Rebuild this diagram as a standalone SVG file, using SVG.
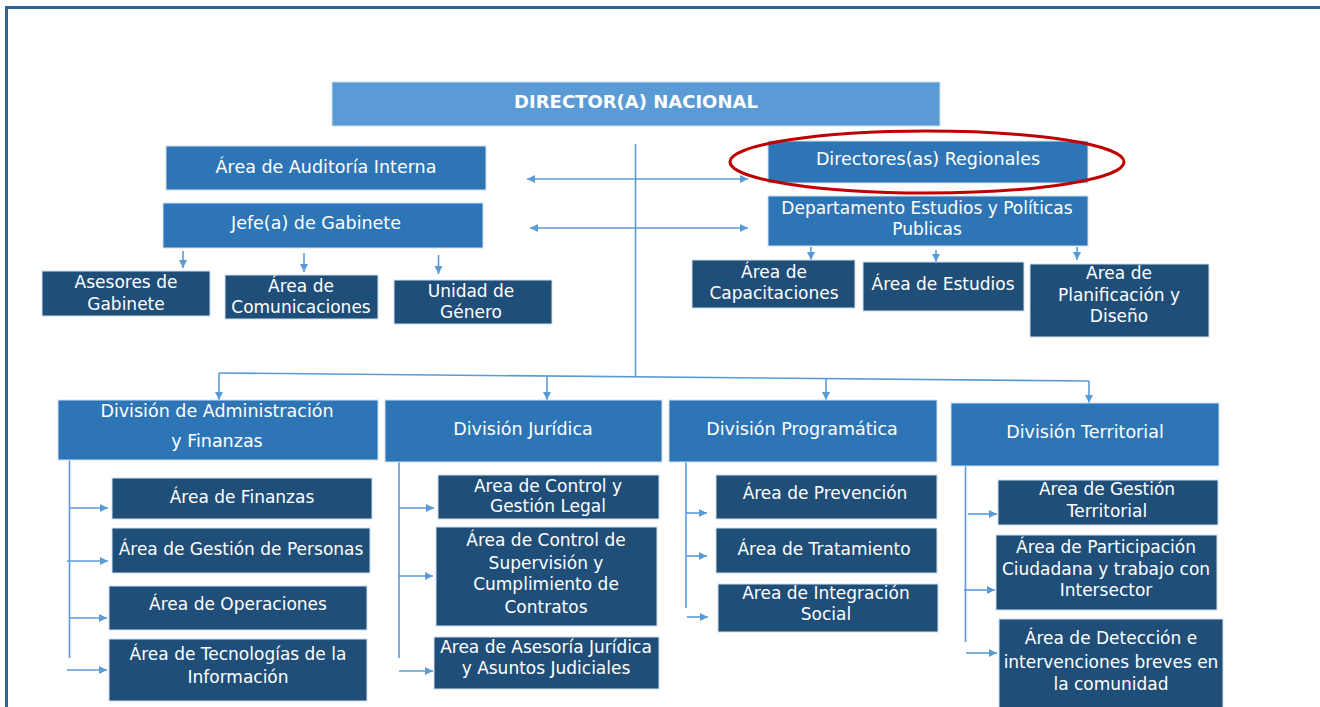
<svg xmlns="http://www.w3.org/2000/svg" width="1320" height="707" viewBox="0 0 1320 707">
<defs>
<marker id="ah" markerUnits="userSpaceOnUse" markerWidth="9" markerHeight="9" refX="8" refY="4.5" orient="auto-start-reverse">
<path d="M0,0.5 L8,4.5 L0,8.5 z" fill="#5b9bd5"/>
</marker>
<style>
.frame{fill:none;stroke:#346296;stroke-width:3}
.b0{fill:#5b9bd5;stroke:#cfe0f1;stroke-width:1}
.b1{fill:#2e75b6;stroke:#cfe0f1;stroke-width:1}
.b2{fill:#1f4e79;stroke:#cfe0f1;stroke-width:1}
text{font-family:"DejaVu Sans","Verdana",sans-serif;fill:#ffffff;text-anchor:middle}
.t0{font-size:18px;font-weight:bold}
.t1{font-size:17.5px}
.t2{font-size:17px}
.c{fill:none;stroke:#5b9bd5;stroke-width:1.6}
.a{fill:none;stroke:#5b9bd5;stroke-width:1.6;marker-end:url(#ah)}
.aa{fill:none;stroke:#5b9bd5;stroke-width:1.6;marker-end:url(#ah);marker-start:url(#ah)}
.ring{fill:none;stroke:#c00000;stroke-width:3}
</style>
</defs>
<rect width="1320" height="707" fill="#ffffff"/>
<path class="frame" d="M6.5,707 L6.5,7.5 L1320,7.5"/>

<g id="connectors">
<path class="c" d="M635.5,144 L635.5,377"/>
<path class="aa" d="M527,179 L748,179"/>
<path class="aa" d="M530,228 L748,228"/>
<path class="a" d="M183,251 L183,268"/>
<path class="a" d="M304,253 L304,272"/>
<path class="a" d="M438.5,255 L438.5,274"/>
<path class="a" d="M811,247 L811,260"/>
<path class="a" d="M936,250 L936,262"/>
<path class="a" d="M1077,247 L1077,260"/>
<path class="c" d="M219,373 L1089,381"/>
<path class="a" d="M219,373 L219,400"/>
<path class="a" d="M547,376 L547,400"/>
<path class="a" d="M826,378.5 L826,400"/>
<path class="a" d="M1089,381 L1089,403"/>
<path class="c" d="M69.5,460 L69.5,658"/>
<path class="a" d="M69.5,508 L108,508"/>
<path class="a" d="M67,561 L108,561"/>
<path class="a" d="M69.5,618 L107,618"/>
<path class="a" d="M67,670 L107,670"/>
<path class="c" d="M399,462 L399,658"/>
<path class="a" d="M399,508 L434,508"/>
<path class="a" d="M398,576 L433,576"/>
<path class="a" d="M399,671 L433,671"/>
<path class="c" d="M686,462 L686,608"/>
<path class="a" d="M686,513 L707,513"/>
<path class="a" d="M686,556 L707,556"/>
<path class="a" d="M687,617 L708,617"/>
<path class="c" d="M965.5,466 L965.5,642"/>
<path class="a" d="M968,514 L997,514"/>
<path class="a" d="M964,590 L995,590"/>
<path class="a" d="M966,653 L997,653"/>
</g>

<g id="director">
<rect class="b0" x="332" y="82" width="608" height="44"/>
<text class="t0" x="636" y="108">DIRECTOR(A) NACIONAL</text>
</g>
<g id="auditoria">
<rect class="b1" x="166" y="146" width="320" height="44"/>
<text class="t1" x="326" y="173">Área de Auditoría Interna</text>
</g>
<g id="jefe-gabinete">
<rect class="b1" x="163" y="203" width="320" height="45"/>
<text class="t1" x="316" y="229">Jefe(a) de Gabinete</text>
</g>
<g id="asesores">
<rect class="b2" x="42" y="271" width="168" height="45"/>
<text class="t2" x="126" y="288">Asesores de</text>
<text class="t2" x="126" y="310">Gabinete</text>
</g>
<g id="comunicaciones">
<rect class="b2" x="225" y="275" width="153" height="44"/>
<text class="t2" x="301" y="292">Área de</text>
<text class="t2" x="301" y="313">Comunicaciones</text>
</g>
<g id="genero">
<rect class="b2" x="394" y="280" width="158" height="44"/>
<text class="t2" x="471" y="297">Unidad de</text>
<text class="t2" x="471" y="318">Género</text>
</g>
<g id="regionales">
<rect class="b1" x="768" y="141" width="320" height="42"/>
<text class="t1" x="928" y="165">Directores(as) Regionales</text>
<ellipse class="ring" cx="927" cy="162" rx="197" ry="31"/>
</g>
<g id="depto-estudios">
<rect class="b1" x="768" y="196" width="320" height="50"/>
<text class="t2" x="927" y="214">Departamento Estudios y Políticas</text>
<text class="t2" x="927" y="235">Publicas</text>
</g>
<g id="capacitaciones">
<rect class="b2" x="692" y="260" width="163" height="48"/>
<text class="t2" x="774" y="278">Área de</text>
<text class="t2" x="774" y="299">Capacitaciones</text>
</g>
<g id="estudios">
<rect class="b2" x="863" y="262" width="161" height="49"/>
<text class="t2" x="943" y="290">Área de Estudios</text>
</g>
<g id="planificacion">
<rect class="b2" x="1030" y="264" width="179" height="73"/>
<text class="t2" x="1119" y="279">Area de</text>
<text class="t2" x="1119" y="301">Planificación y</text>
<text class="t2" x="1119" y="322">Diseño</text>
</g>

<g id="div-administracion">
<rect class="b1" x="58" y="400" width="320" height="60"/>
<text class="t1" x="217" y="417">División de Administración</text>
<text class="t1" x="217" y="447">y Finanzas</text>
</g>
<g id="div-juridica">
<rect class="b1" x="385" y="400" width="277" height="62"/>
<text class="t1" x="523" y="435">División Jurídica</text>
</g>
<g id="div-programatica">
<rect class="b1" x="669" y="400" width="268" height="62"/>
<text class="t1" x="802" y="435">División Programática</text>
</g>
<g id="div-territorial">
<rect class="b1" x="951" y="403" width="268" height="63"/>
<text class="t1" x="1085" y="438">División Territorial</text>
</g>

<g id="finanzas">
<rect class="b2" x="112" y="478" width="260" height="41"/>
<text class="t2" x="242" y="503">Área de Finanzas</text>
</g>
<g id="gestion-personas">
<rect class="b2" x="112" y="528" width="258" height="45"/>
<text class="t2" x="241" y="555">Área de Gestión de Personas</text>
</g>
<g id="operaciones">
<rect class="b2" x="109" y="586" width="258" height="44"/>
<text class="t2" x="238" y="610">Área de Operaciones</text>
</g>
<g id="tecnologias">
<rect class="b2" x="109" y="639" width="258" height="62"/>
<text class="t2" x="238" y="660">Área de Tecnologías de la</text>
<text class="t2" x="238" y="683">Información</text>
</g>

<g id="control-gestion">
<rect class="b2" x="438" y="475" width="221" height="44"/>
<text class="t2" x="548" y="492">Area de Control y</text>
<text class="t2" x="548" y="512">Gestión Legal</text>
</g>
<g id="control-supervision">
<rect class="b2" x="436" y="527" width="221" height="99"/>
<text class="t2" x="546" y="546">Área de Control de</text>
<text class="t2" x="546" y="569">Supervisión y</text>
<text class="t2" x="546" y="590">Cumplimiento de</text>
<text class="t2" x="546" y="613">Contratos</text>
</g>
<g id="asesoria-juridica">
<rect class="b2" x="434" y="637" width="225" height="52"/>
<text class="t2" x="546" y="653">Area de Asesoría Jurídica</text>
<text class="t2" x="546" y="674">y Asuntos Judiciales</text>
</g>

<g id="prevencion">
<rect class="b2" x="716" y="475" width="221" height="44"/>
<text class="t2" x="825" y="499">Área de Prevención</text>
</g>
<g id="tratamiento">
<rect class="b2" x="716" y="528" width="221" height="45"/>
<text class="t2" x="824" y="555">Área de Tratamiento</text>
</g>
<g id="integracion">
<rect class="b2" x="718" y="584" width="220" height="48"/>
<text class="t2" x="826" y="599">Area de Integración</text>
<text class="t2" x="826" y="620">Social</text>
</g>

<g id="gestion-territorial">
<rect class="b2" x="998" y="480" width="220" height="45"/>
<text class="t2" x="1107" y="495">Area de Gestión</text>
<text class="t2" x="1107" y="517">Territorial</text>
</g>
<g id="participacion">
<rect class="b2" x="996" y="535" width="221" height="75"/>
<text class="t2" x="1106" y="553">Área de Participación</text>
<text class="t2" x="1106" y="575">Ciudadana y trabajo con</text>
<text class="t2" x="1106" y="596">Intersector</text>
</g>
<g id="deteccion">
<rect class="b2" x="999" y="619" width="224" height="92"/>
<text class="t2" x="1111" y="644">Área de Detección e</text>
<text class="t2" x="1111" y="668">intervenciones breves en</text>
<text class="t2" x="1111" y="690">la comunidad</text>
</g>
</svg>
